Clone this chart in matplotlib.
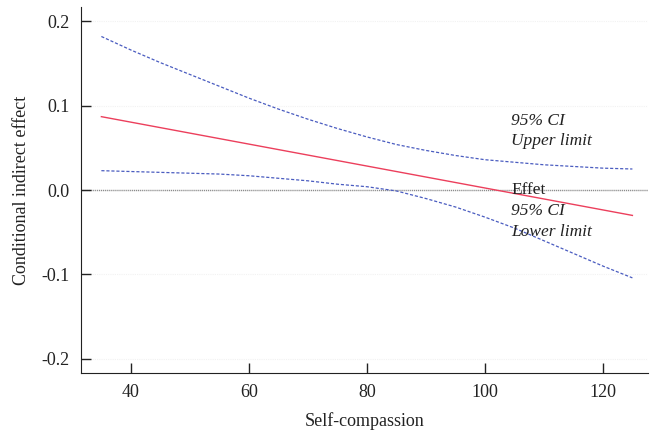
import numpy as np
import matplotlib.pyplot as plt

plt.rcParams['font.family'] = ['Liberation Serif', 'DejaVu Serif']
plt.rcParams['axes.unicode_minus'] = False

# values
self_compassion = [35, 40, 45, 50, 55, 60, 65, 70, 75, 80,
                   85, 90, 95, 100, 105, 110, 115, 120, 125]
effect = [0.087, 0.0805, 0.074, 0.0675, 0.061, 0.0545, 0.048, 0.0415, 0.035, 0.0285,
          0.022, 0.0155, 0.009, 0.0025, -0.004, -0.0105, -0.017, -0.0235, -0.030]
ci_upper = [0.182, 0.166, 0.151, 0.137, 0.123, 0.109, 0.096, 0.084, 0.073, 0.063,
            0.054, 0.047, 0.041, 0.036, 0.033, 0.030, 0.028, 0.026, 0.025]
ci_lower = [0.023, 0.022, 0.021, 0.020, 0.019, 0.017, 0.014, 0.011, 0.007, 0.004,
            -0.001, -0.010, -0.020, -0.032, -0.045, -0.060, -0.075, -0.090, -0.104]

x_ticks = [40, 60, 80, 100, 120]
y_ticks = [-0.2, -0.1, 0.0, 0.1, 0.2]

fig = plt.figure(figsize=(6.51, 4.34), dpi=100)
ax = fig.add_axes([0.124, 0.14, 0.871, 0.844])

# faint grid and the zero reference line
for yv in y_ticks:
    ax.axhline(yv, color='#f2f2f2', lw=0.8, ls=(0, (1, 1)), zorder=0)
ax.axhline(0, color='#8c8c8c', lw=1.0, ls=(0, (0.8, 0.6)), zorder=1)

ax.plot(self_compassion, ci_upper, color='#4a5cc0', lw=0.9, ls=(0, (2.5, 1.5)))
ax.plot(self_compassion, ci_lower, color='#4a5cc0', lw=0.9, ls=(0, (2.5, 1.5)))
ax.plot(self_compassion, effect, color='#ec3f5c', lw=1.0)

txt = dict(fontsize=12.5, va='center', color='#222222')
ax.text(104.5, 0.0815, '95% CI', style='italic', **txt)
ax.text(104.5, 0.0578, 'Upper limit', style='italic', **txt)
ax.text(104.5, 0.0006, 'Effet', **txt)
ax.text(104.5, -0.025, '95% CI', style='italic', **txt)
ax.text(104.5, -0.050, 'Lower limit', style='italic', **txt)

ax.set_xlim(31.5, 127.6)
ax.set_ylim(-0.217, 0.217)
ax.set_xticks(x_ticks)
ax.set_yticks(y_ticks)
ax.set_yticklabels(['-0.2', '-0.1', '0.0', '0.1', '0.2'])
ax.tick_params(direction='in', length=7, width=1, labelsize=13, colors='#222222', pad=8)
ax.spines['top'].set_visible(False)
ax.spines['right'].set_visible(False)
ax.spines['left'].set_color('#222222')
ax.spines['bottom'].set_color('#222222')

ax.set_xlabel('Self-compassion', fontsize=13, color='#222222', labelpad=8)
ax.set_ylabel('Conditional indirect effect', fontsize=13, color='#222222', labelpad=8)

fig.savefig('out.png', dpi=100)
